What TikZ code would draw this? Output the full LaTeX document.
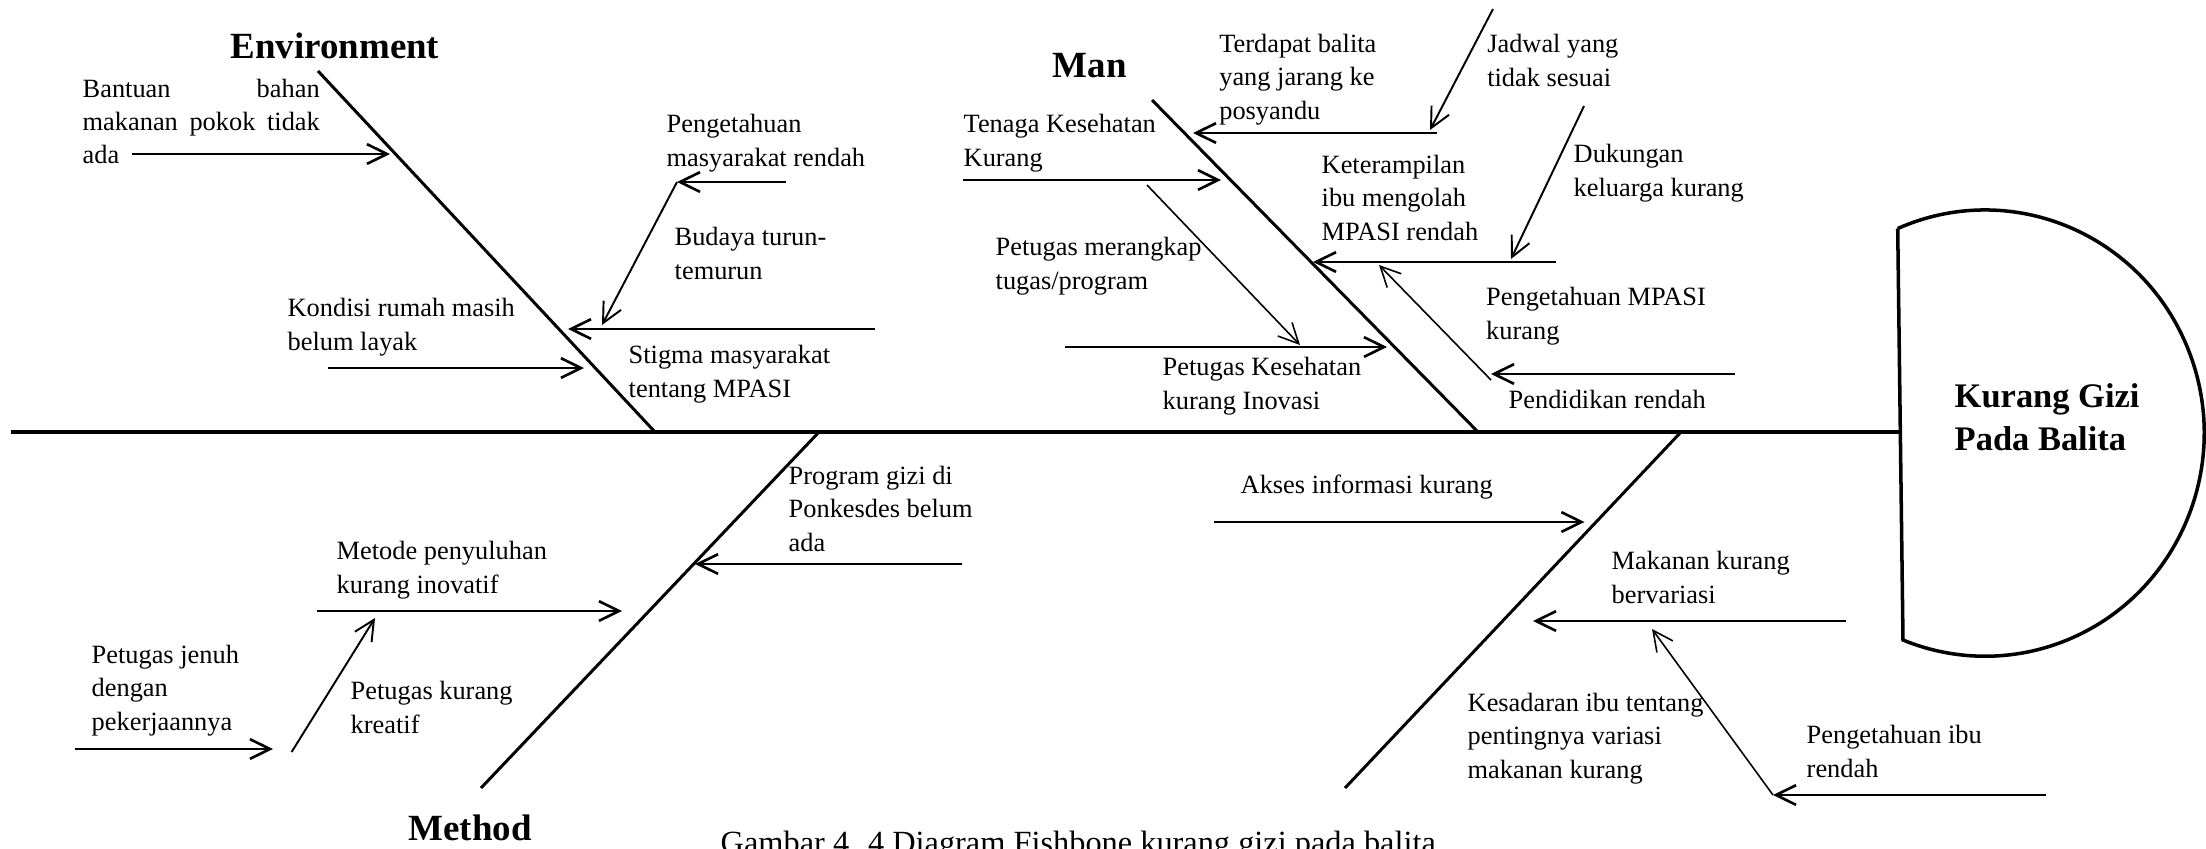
\documentclass[tikz,border=0pt]{standalone}
\usepackage{fontspec}
\setmainfont{Liberation Serif}
\usetikzlibrary{arrows.meta}
\begin{document}
\begin{tikzpicture}[x=0.01cm,y=-0.01cm,
  txt/.style={anchor=base west, inner sep=0pt, align=left, font=\fontsize{7.5pt}{9.4pt}\selectfont},
  ttl/.style={anchor=base west, inner sep=0pt, font=\bfseries\fontsize{10.5pt}{12.6pt}\selectfont},
  headtxt/.style={anchor=base west, inner sep=0pt, align=left, font=\bfseries\fontsize{9.8pt}{12.2pt}\selectfont},
  captxt/.style={anchor=base west, inner sep=0pt, font=\fontsize{9.2pt}{11pt}\selectfont},
  spine/.style={line width=1.1pt},
  bone/.style={line width=0.85pt},
  headshape/.style={line width=1pt},
  arr/.style={line width=0.75pt, -{Straight Barb[length=5.7pt,width=5.6pt]}},
  marr/.style={line width=0.55pt, -{Straight Barb[length=5.7pt,width=5.6pt]}},
  tarr/.style={line width=0.45pt, -{Straight Barb[length=5.7pt,width=5.6pt]}},
]
\useasboundingbox (0,0) rectangle (2206,848);

% ---------- head ----------
\coordinate (dTL) at (1897.7,228.5);
\coordinate (dBL) at (1903,639.8);
\draw[headshape] (dTL) arc[start angle=113.5, end angle=-112, x radius=2.19cm, y radius=2.23cm] -- (dTL);
\node[headtxt] (head) at (1954,450) {Kurang Gizi\\Pada Balita};

% ---------- spine and bones ----------
\coordinate (sp0) at (11,432);
\coordinate (sp1) at (1899,432);
\draw[spine] (sp0) -- (sp1);

\coordinate (envT) at (318,71);   \coordinate (envB) at (655,432);
\coordinate (manT) at (1152,100); \coordinate (manB) at (1478,432);
\coordinate (metT) at (819,432);  \coordinate (metB) at (481,788);
\coordinate (matT) at (1681,432); \coordinate (matB) at (1345,788);
\draw[bone] (envT) -- (envB);
\draw[bone] (manT) -- (manB);
\draw[bone] (metT) -- (metB);
\draw[bone] (matT) -- (matB);

% ---------- titles ----------
\node[ttl] (tEnv) at (230,58) {Environment};
\node[ttl] (tMan) at (1052,77) {Man};
\node[ttl] (tMet) at (408,840) {Method};

% ---------- Environment ----------
\node[txt] (bantuan) at (82,163.5) {\hbox to 237\dimexpr0.01cm\relax{Bantuan\hfill bahan}\\\makebox[2.37cm][s]{makanan pokok tidak}\\ada};
\coordinate (e1a) at (132,154); \coordinate (e1b) at (390,154);
\draw[arr] (e1a) -- (e1b);

\node[txt] (pengmas) at (666,166) {Pengetahuan\\masyarakat rendah};
\coordinate (e2a) at (786,182); \coordinate (e2b) at (677,182);
\draw[arr] (e2a) -- (e2b);
\coordinate (e3b) at (602,325);
\draw[marr] (e2b) -- (e3b);

\node[txt] (budaya) at (674,279) {Budaya turun-\\temurun};
\coordinate (e4a) at (875,329); \coordinate (e4b) at (568,329);
\draw[arr] (e4a) -- (e4b);
\node[txt] (stigma) at (628,397) {Stigma masyarakat\\tentang MPASI};

\node[txt] (kondisi) at (287,350) {Kondisi rumah masih\\belum layak};
\coordinate (e5a) at (328,368); \coordinate (e5b) at (584,368);
\draw[arr] (e5a) -- (e5b);

% ---------- Man ----------
\node[txt] (terdapat) at (1218.6,119) {Terdapat balita\\yang jarang ke\\posyandu};
\coordinate (m1a) at (1437,133); \coordinate (m1b) at (1193,133);
\draw[arr] (m1a) -- (m1b);
\node[txt] (jadwal) at (1486.6,86) {Jadwal yang\\tidak sesuai};
\coordinate (m2a) at (1493,9); \coordinate (m2b) at (1430,130);
\draw[marr] (m2a) -- (m2b);

\node[txt] (tenaga) at (963,166) {Tenaga Kesehatan\\Kurang};
\coordinate (m3a) at (963,180); \coordinate (m3b) at (1221,180);
\draw[arr] (m3a) -- (m3b);

\node[txt] (merangkap) at (995,289) {Petugas merangkap\\tugas/program};
\coordinate (m4a) at (1147,185); \coordinate (m4b) at (1300,345);
\draw[tarr] (m4a) -- (m4b);

\node[txt] (inovasi) at (1162,409) {Petugas Kesehatan\\kurang Inovasi};
\coordinate (m9a) at (1065,347); \coordinate (m9b) at (1387,347);
\draw[arr] (m9a) -- (m9b);

\node[txt] (keteramp) at (1321,240) {Keterampilan\\ibu mengolah\\MPASI rendah};
\coordinate (m5a) at (1556,262); \coordinate (m5b) at (1313,262);
\draw[arr] (m5a) -- (m5b);
\node[txt] (dukungan) at (1573,196) {Dukungan\\keluarga kurang};
\coordinate (m6a) at (1584,106); \coordinate (m6b) at (1511,259);
\draw[marr] (m6a) -- (m6b);

\node[txt] (pengmpasi) at (1485.5,339) {Pengetahuan MPASI\\kurang};
\coordinate (m8a) at (1491,380); \coordinate (m8b) at (1379,265);
\draw[tarr] (m8a) -- (m8b);
\node[txt] (pendidikan) at (1508,408) {Pendidikan rendah};
\coordinate (m7a) at (1735,374); \coordinate (m7b) at (1491,374);
\draw[arr] (m7a) -- (m7b);

% ---------- Method ----------
\node[txt] (program) at (788,551) {Program gizi di\\Ponkesdes belum\\ada};
\coordinate (t1a) at (962,564); \coordinate (t1b) at (695,564);
\draw[arr] (t1a) -- (t1b);

\node[txt] (metode) at (336,593) {Metode penyuluhan\\kurang inovatif};
\coordinate (t2a) at (317,611); \coordinate (t2b) at (622,611);
\draw[arr] (t2a) -- (t2b);

\node[txt] (jenuh) at (91,730) {Petugas jenuh\\dengan\\pekerjaannya};
\coordinate (t3a) at (75,749); \coordinate (t3b) at (273,749);
\draw[arr] (t3a) -- (t3b);

\node[txt] (kreatif) at (350,733) {Petugas kurang\\kreatif};
\coordinate (t4a) at (291.6,752); \coordinate (t4b) at (375,618);
\draw[marr] (t4a) -- (t4b);

% ---------- Material ----------
\node[txt] (akses) at (1240,493) {Akses informasi kurang};
\coordinate (l1a) at (1214,522); \coordinate (l1b) at (1584.5,522);
\draw[arr] (l1a) -- (l1b);

\node[txt] (makanan) at (1611,603) {Makanan kurang\\bervariasi};
\coordinate (l2a) at (1846,621); \coordinate (l2b) at (1533,621);
\draw[arr] (l2a) -- (l2b);

\node[txt] (kesadaran) at (1467,778) {Kesadaran ibu tentang\\pentingnya variasi\\makanan kurang};
\coordinate (l3a) at (1773,795); \coordinate (l3b) at (1652,629);
\draw[tarr] (l3a) -- (l3b);

\node[txt] (pengibu) at (1806,777) {Pengetahuan ibu\\rendah};
\coordinate (l4a) at (2046,795); \coordinate (l4b) at (1773,795);
\draw[arr] (l4a) -- (l4b);

% ---------- caption ----------
\node[captxt] (caption) at (720,853) {Gambar 4. 4 Diagram Fishbone kurang gizi pada balita};
\end{tikzpicture}
\end{document}
